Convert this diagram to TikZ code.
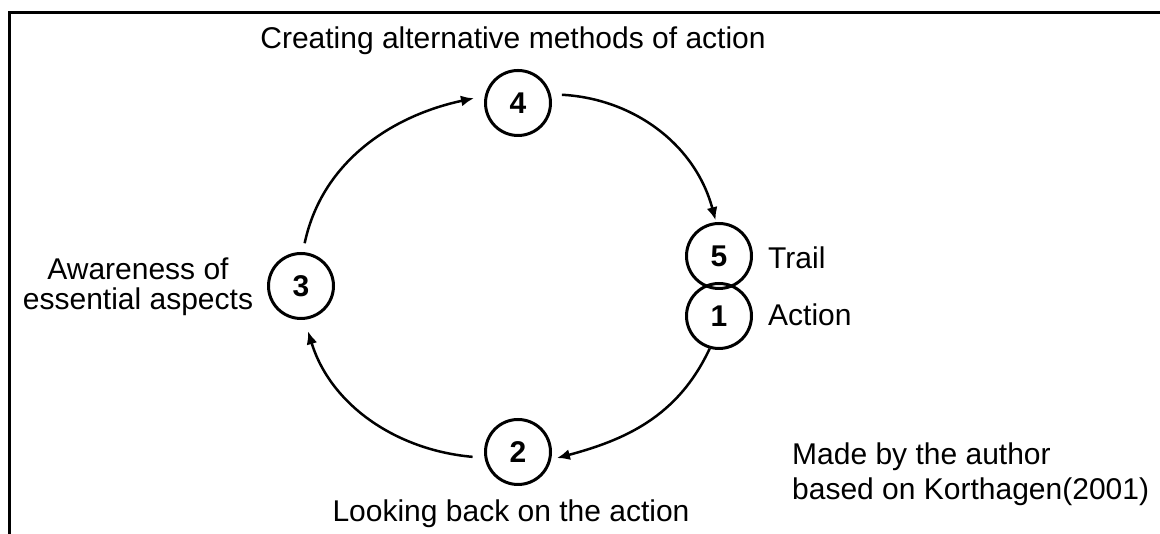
\documentclass[tikz,border=0pt]{standalone}
\usepackage{fontspec}
\setmainfont{Liberation Sans}
\usetikzlibrary{arrows.meta}
\begin{document}
\begin{tikzpicture}[x=1pt,y=1pt,
  stage/.style={circle, draw, line width=3pt, minimum size=65pt, inner sep=0pt, font=\fontsize{30}{30}\selectfont\bfseries},
  lbl/.style={inner sep=0pt, font=\fontsize{30}{30}\selectfont},
  arr/.style={line width=2.5pt, -{Latex[length=13pt,width=11pt]}}]
\useasboundingbox (0,0) rectangle (1160,534);
\clip (0,0) rectangle (1160,534);
\fill[white] (0,0) rectangle (1160,534);
\draw[line width=2.5pt] (9.5,-10) -- (9.5,521.5) -- (1170,521.5);

\node[stage] (c4) at (518,431) {4};
\node[stage] (c5) at (719,278) {5};
\node[stage] (c1) at (719,218) {1};
\node[stage] (c2) at (518,82) {2};
\node[stage] (c3) at (301,248) {3};

\node[lbl, anchor=base] (t4) at (513,485.5) {Creating alternative methods of action};
\node[lbl, align=center] (t3) at (138,247.5) {Awareness of\\essential aspects};
\node[lbl, anchor=base west] (t5) at (768,265) {Trail};
\node[lbl, anchor=base west] (t1) at (768,208) {Action};
\node[lbl, anchor=base] (t2) at (511,12) {Looking back on the action};
\node[lbl, align=left, anchor=west, font=\fontsize{30}{35}\selectfont] (note) at (792,59.3) {Made by the author\\based on Korthagen(2001)};

\draw[arr, shorten <=9pt, shorten >=11pt] (c3.87) to[out=78, in=192] (c4.168);
\draw[arr, shorten <=11pt, shorten >=2pt] (c4.15) to[out=-3, in=105] (c5.95);
\draw[arr, shorten >=6pt] (c1.254) to[out=245, in=15] (c2.-13);
\draw[arr, shorten <=12pt, shorten >=12pt] (c2.190) to[out=175, in=-73] (c3.276);
\end{tikzpicture}
\end{document}
